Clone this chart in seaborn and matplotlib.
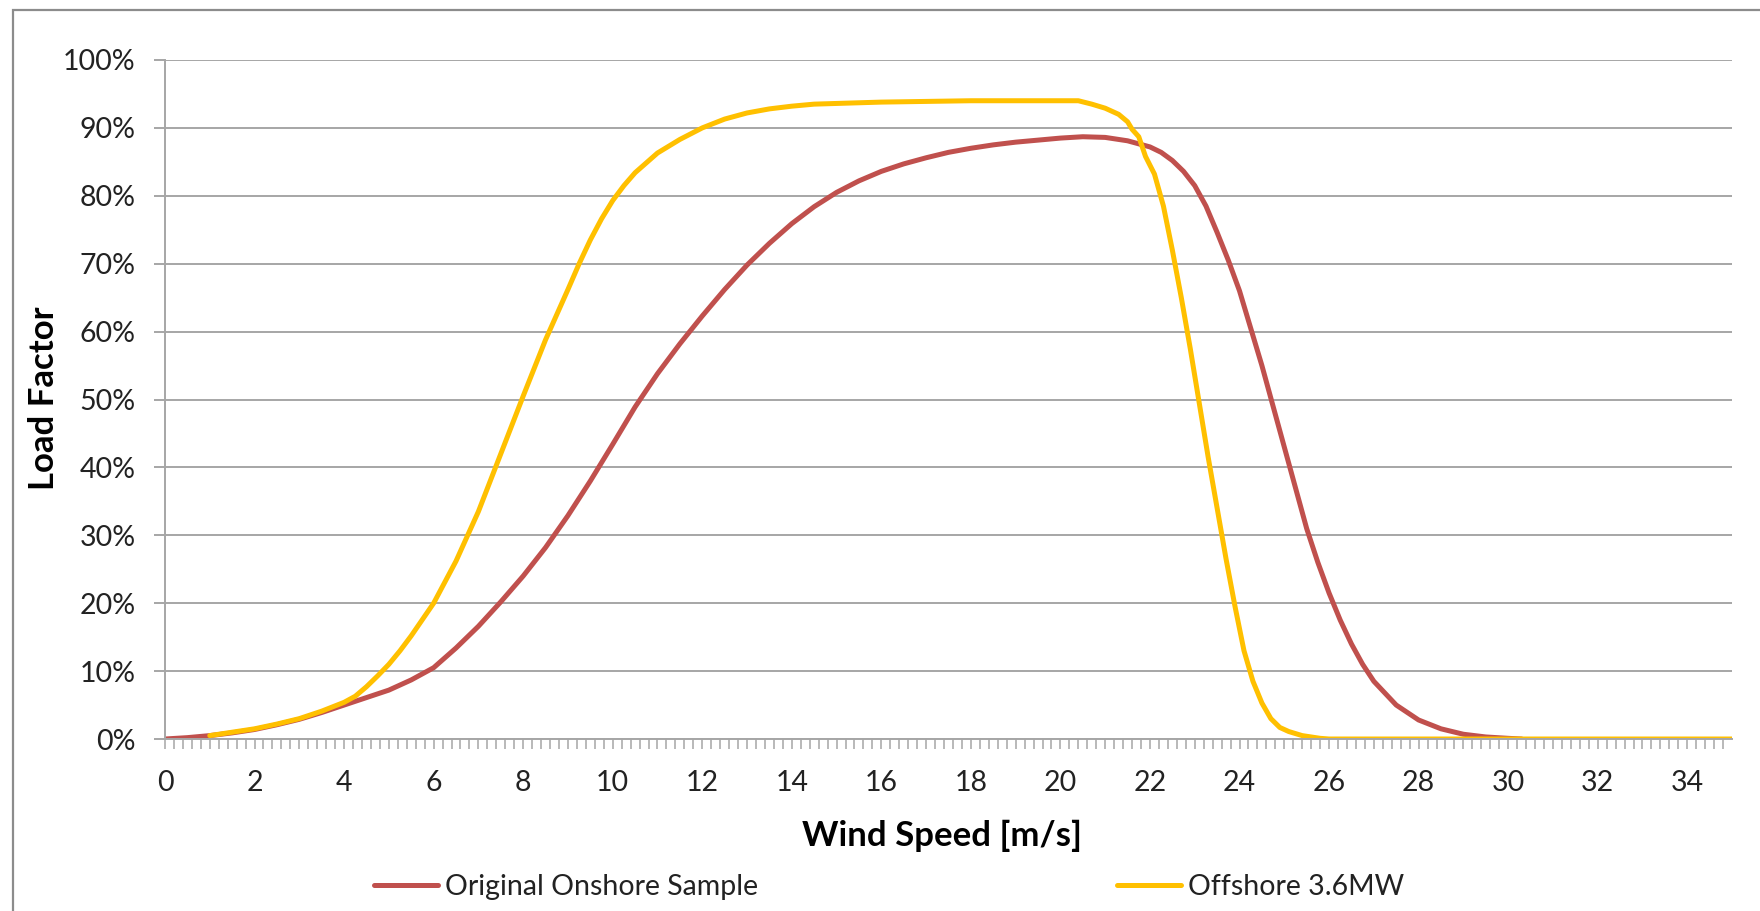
import numpy as np
import pandas as pd
import seaborn as sns
import matplotlib.pyplot as plt
from matplotlib.patches import Rectangle
from matplotlib.ticker import FuncFormatter, MultipleLocator

# Load factor [%] against wind speed [m/s]
onshore_speed = [0, 0.5, 1.0, 1.5, 2.0, 2.5, 3.0, 3.5, 4.0, 4.5, 5.0, 5.5, 6.0, 6.5,
                 7.0, 7.5, 8.0, 8.5, 9.0, 9.5, 10.0, 10.5, 11.0, 11.5, 12.0, 12.5,
                 13.0, 13.5, 14.0, 14.5, 15.0, 15.5, 16.0, 16.5, 17.0, 17.5, 18.0,
                 18.5, 19.0, 19.5, 20.0, 20.5, 21.0, 21.5, 22.0, 22.25, 22.5, 22.75,
                 23.0, 23.25, 23.5, 23.75, 24.0, 24.25, 24.5, 24.75, 25.0, 25.25,
                 25.5, 25.75, 26.0, 26.25, 26.5, 26.75, 27.0, 27.5, 28.0, 28.5,
                 29.0, 29.5, 30.0, 30.3]
onshore_load = [0.0, 0.2, 0.5, 0.9, 1.4, 2.1, 2.9, 3.9, 5.0, 6.1, 7.2, 8.7, 10.5, 13.4,
                16.6, 20.2, 24.0, 28.2, 32.9, 38.0, 43.4, 48.9, 53.8, 58.2, 62.3, 66.2,
                69.8, 73.0, 75.9, 78.4, 80.5, 82.2, 83.6, 84.7, 85.6, 86.4, 87.0,
                87.5, 87.9, 88.2, 88.5, 88.7, 88.6, 88.1, 87.2, 86.4, 85.2, 83.6,
                81.5, 78.5, 74.6, 70.5, 66.0, 60.5, 55.0, 49.0, 43.0, 37.0,
                31.0, 26.0, 21.5, 17.5, 14.0, 11.0, 8.5, 5.0, 2.8, 1.5,
                0.7, 0.3, 0.1, 0.0]

offshore_speed = [1.0, 1.5, 2.0, 2.5, 3.0, 3.5, 4.0, 4.25, 4.5, 4.75, 5.0, 5.25, 5.5,
                  6.0, 6.5, 7.0, 7.5, 8.0, 8.5, 9.0, 9.25, 9.5, 9.75, 10.0, 10.25,
                  10.5, 11.0, 11.5, 12.0, 12.5, 13.0, 13.5, 14.0, 14.5, 15.0, 16.0,
                  17.0, 18.0, 19.0, 20.0, 20.4, 20.7, 21.0, 21.3, 21.5, 21.6, 21.75,
                  21.9, 22.1, 22.3, 22.5, 22.7, 22.9, 23.1, 23.3, 23.5, 23.7, 23.9,
                  24.1, 24.3, 24.5, 24.7, 24.9, 25.1, 25.4, 25.8, 26.0, 28.0, 30.0,
                  32.0, 35.0]
offshore_load = [0.5, 1.0, 1.5, 2.2, 3.0, 4.1, 5.4, 6.3, 7.7, 9.3, 11.0, 13.0, 15.2,
                 20.0, 26.2, 33.5, 42.0, 50.5, 58.8, 66.2, 70.0, 73.5, 76.6, 79.3, 81.5,
                 83.4, 86.3, 88.3, 90.0, 91.3, 92.2, 92.8, 93.2, 93.5, 93.6, 93.8,
                 93.9, 94.0, 94.0, 94.0, 94.0, 93.5, 92.9, 92.0, 90.9, 89.8, 88.7,
                 85.8, 83.2, 78.5, 72.0, 65.0, 57.5, 49.5, 41.5, 34.0, 26.5, 19.5,
                 13.0, 8.5, 5.3, 3.0, 1.7, 1.1, 0.5, 0.1, 0.0, 0.0, 0.0,
                 0.0, 0.0]

series_names = ['Original Onshore Sample', 'Offshore 3.6MW']
series_colors = ['#C0504D', '#FFC000']

df = pd.concat([
    pd.DataFrame({'speed': onshore_speed, 'load': onshore_load, 'series': series_names[0]}),
    pd.DataFrame({'speed': offshore_speed, 'load': offshore_load, 'series': series_names[1]}),
])

sns.set_theme(style='white')
plt.rcParams['font.family'] = ['Lato', 'DejaVu Sans']

W, H = 1760, 911
fig = plt.figure(figsize=(W / 100, H / 100), dpi=100)
ax = fig.add_axes([165 / W, 1 - 739 / H, (1732 - 165) / W, (739 - 60) / H])

sns.lineplot(data=df, x='speed', y='load', hue='series', palette=series_colors,
             estimator=None, sort=False, linewidth=3.6, ax=ax)

grid_color = '#a6a6a6'
text_color = '#222222'

ax.set_xlim(0, 35)
ax.set_ylim(0, 100)
ax.xaxis.set_major_locator(MultipleLocator(2))
ax.set_xticks(np.arange(0, 34.9, 0.2), minor=True)
ax.yaxis.set_major_locator(MultipleLocator(10))
ax.yaxis.set_major_formatter(FuncFormatter(lambda v, p: f'{v:.0f}%'))
ax.xaxis.set_major_formatter(FuncFormatter(lambda v, p: f'{v:.0f}'))

ax.yaxis.grid(True, color=grid_color, linewidth=1.4)
ax.xaxis.grid(False)
ax.set_axisbelow(True)
for side in ['top', 'right']:
    ax.spines[side].set_visible(False)
for side in ['left', 'bottom']:
    ax.spines[side].set_color(grid_color)
    ax.spines[side].set_linewidth(1.4)

ax.tick_params(axis='y', which='major', left=True, length=8, width=1.4, color=grid_color,
               pad=13, labelsize=20.5, labelcolor=text_color)
ax.tick_params(axis='x', which='both', bottom=True, direction='out', length=7.2,
               width=1.1, color=grid_color)
ax.tick_params(axis='x', which='major', pad=15, labelsize=20.5, labelcolor=text_color)

ax.set_xlabel('')
ax.set_ylabel('')
fig.text(942 / W, 1 - 846 / H, 'Wind Speed [m/s]', ha='center', va='baseline',
         fontsize=25, fontweight='bold', color='black')
fig.text(44 / W, 1 - 398 / H, 'Load Factor', ha='center', va='center', rotation=90,
         fontsize=25, fontweight='bold', color='black')

handles, labels = ax.get_legend_handles_labels()
ax.get_legend().remove()
fig.legend(handles, labels, loc='center left', bbox_to_anchor=(374 / W, 1 - 887 / H),
           ncol=2, frameon=False, fontsize=20.5, handlelength=2.25, handletextpad=0.25,
           columnspacing=12.6, borderpad=0, borderaxespad=0, labelcolor=text_color)

# chart area border
fig.add_artist(Rectangle((13 / W, -0.1), 1.2, 1.1 - 10 / H, transform=fig.transFigure,
                         fill=False, edgecolor='#8c8c8c', linewidth=1.6))

fig.savefig('out.png', dpi=100)
